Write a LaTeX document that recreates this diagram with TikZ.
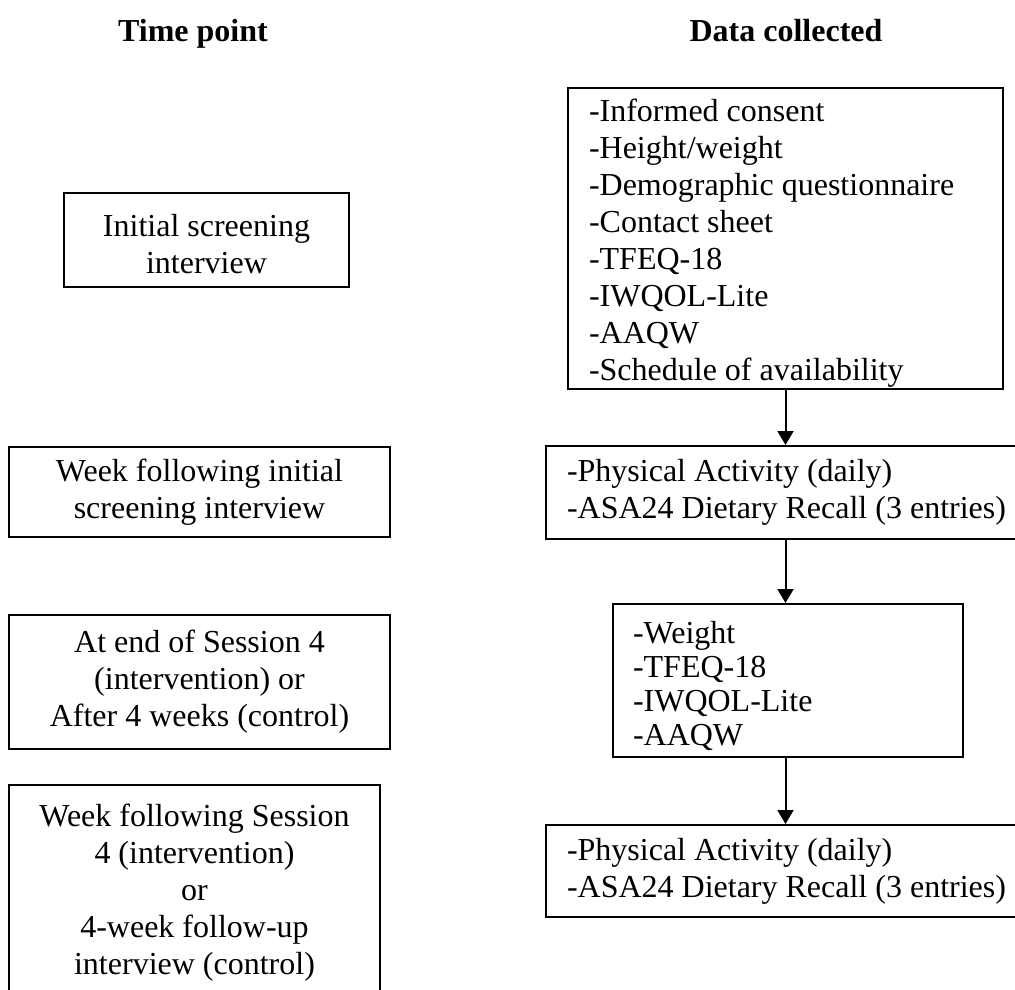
\documentclass[tikz,border=0pt]{standalone}
\usepackage{fontspec}
\setmainfont{Liberation Serif}
\usetikzlibrary{arrows.meta}

\tikzstyle{block} = [
        draw,
        line width=2pt,
        fill=white,
        rectangle,
        inner sep=0pt,
        font=\fontsize{32}{37}\selectfont
    ]
\tikzstyle{time} = [block, align=flush center]
\tikzstyle{data} = [block, align=flush left, inner xsep=21pt]
\tikzstyle{head} = [anchor=base, font=\fontsize{32}{37}\selectfont\bfseries]

\begin{document}
\begin{tikzpicture}[x=1pt, y=-1pt, >={Triangle[length=14pt, width=16pt]}]
        \useasboundingbox (0,0) rectangle (1015,990);
        \node(tphd) [head] at (193,42) {Time point};
        \node(dchd) [head] at (786,42) {Data collected};
        % time points
        \node(init) [time, minimum width=285pt, minimum height=94pt]
            at (206.5,240) {\rule{0pt}{30pt}Initial screening\\interview};
        \node(wkone) [time, minimum width=381pt, minimum height=90pt]
            at (199.5,492) {Week following initial\\screening interview};
        \node(send) [time, minimum width=381pt, minimum height=134pt]
            at (199.5,682) {At end of Session 4\\(intervention) or\\After 4 weeks (control)};
        \node(wktwo) [time, minimum width=371pt, minimum height=215pt]
            at (194.5,892.5) {Week following Session\\4 (intervention)\\or\\4-week follow-up\\interview (control)};
        % data collected
        \node(base) [data, text width=393pt, minimum height=301pt] at (785.5,238.5)
            {\rule{0pt}{32pt}-Informed consent\\-Height/weight\\-Demographic questionnaire\\-Contact sheet\\-TFEQ-18\\-IWQOL-Lite\\-AAQW\\-Schedule of availability};
        \node(diet) [data, text width=445pt, minimum height=93pt] at (789.5,492.5)
            {-Physical Activity (daily)\\-ASA24 Dietary Recall (3 entries)};
        \node(post) [data, inner xsep=20pt, text width=310pt, minimum height=153pt,
            font=\fontsize{32}{34}\selectfont] at (788,680.5)
            {\rule{0pt}{34pt}-Weight\\-TFEQ-18\\-IWQOL-Lite\\-AAQW};
        \node(fdiet) [data, text width=445pt, minimum height=92pt] at (789.5,871)
            {-Physical Activity (daily)\\-ASA24 Dietary Recall (3 entries)};
        \draw[->, line width=2pt] (base.south) -- (diet.north -| base.south);
        \draw[->, line width=2pt] (diet.south -| base.south) -- (post.north -| base.south);
        \draw[->, line width=2pt] (post.south -| base.south) -- (fdiet.north -| base.south);
    \end{tikzpicture}
\end{document}
